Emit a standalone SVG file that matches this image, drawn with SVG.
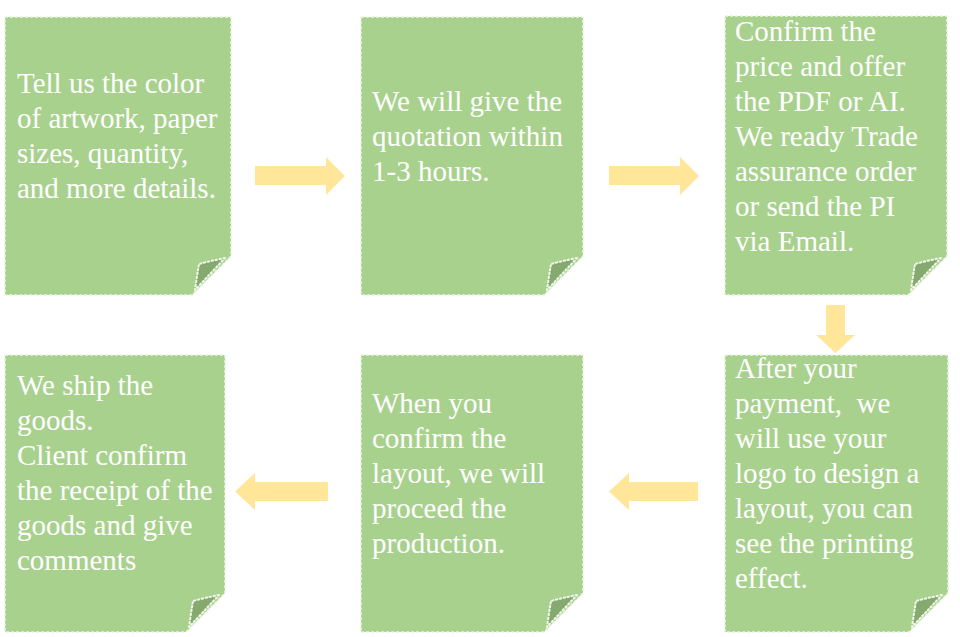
<svg xmlns="http://www.w3.org/2000/svg" width="960" height="637" viewBox="0 0 960 637">
<style>
.page{fill:#A9D18E;stroke:#EAF4E3;stroke-width:1.5;stroke-dasharray:3 2}
.flap{fill:#86A96F;stroke:#F2F8EE;stroke-width:2;stroke-dasharray:1.5 2.5;stroke-linecap:round;stroke-linejoin:round}
.arrow{fill:#FFE699}
text{font-family:"Liberation Serif","Times New Roman",serif;font-size:29px;fill:#FFFFFF}
</style>
<rect width="960" height="637" fill="#FFFFFF"/>
<g id="connectors">
<path class="arrow" d="M255,166 H326 V157 L345,176 L326,195 V185 H255 Z"/>
<path class="arrow" d="M609,166 H680 V157 L699,176 L680,195 V185 H609 Z"/>
<path class="arrow" d="M826,305 H845 V335 H855 L835.5,353 L816,335 H826 Z"/>
<path class="arrow" d="M698,482 H629 V473 L609,491.5 L629,510 V501 H698 Z"/>
<path class="arrow" d="M328,482 H255 V473 L235,491.5 L255,510 V501 H328 Z"/>
</g>
<g id="node1">
<path class="page" d="M5,17 H231 V256 L192,295 H5 Z"/>
<path class="flap" d="M225,258 Q210,261 199,264 Q197,276 195,290 Z"/>
<text x="17" y="93">Tell us the color</text>
<text x="17" y="128">of artwork, paper</text>
<text x="17" y="163">sizes, quantity,</text>
<text x="17" y="198">and more details.</text>
</g>
<g id="node2">
<path class="page" d="M361,17 H583 V256 L544,295 H361 Z"/>
<path class="flap" d="M577,258 Q562,261 551,264 Q549,276 547,290 Z"/>
<text x="372" y="111">We will give the</text>
<text x="372" y="146">quotation within</text>
<text x="372" y="181">1-3 hours.</text>
</g>
<g id="node3">
<path class="page" d="M725,16 H947 V256 L908,295 H725 Z"/>
<path class="flap" d="M941,258 Q926,261 915,264 Q913,276 911,290 Z"/>
<text x="735" y="41">Confirm the</text>
<text x="735" y="76">price and offer</text>
<text x="735" y="111">the PDF or AI.</text>
<text x="735" y="146">We ready Trade</text>
<text x="735" y="181">assurance order</text>
<text x="735" y="216">or send the PI</text>
<text x="735" y="251">via Email.</text>
</g>
<g id="node4">
<path class="page" d="M725,355 H948 V593 L909,632 H725 Z"/>
<path class="flap" d="M942,595 Q927,598 916,601 Q914,613 912,627 Z"/>
<text x="735" y="378">After your</text>
<text x="735" y="413" xml:space="preserve">payment,  we</text>
<text x="735" y="448">will use your</text>
<text x="735" y="483">logo to design a</text>
<text x="735" y="518">layout, you can</text>
<text x="735" y="553">see the printing</text>
<text x="735" y="588">effect.</text>
</g>
<g id="node5">
<path class="page" d="M361,355 H583 V593 L544,632 H361 Z"/>
<path class="flap" d="M577,595 Q562,598 551,601 Q549,613 547,627 Z"/>
<text x="372" y="413">When you</text>
<text x="372" y="448">confirm the</text>
<text x="372" y="483">layout, we will</text>
<text x="372" y="518">proceed the</text>
<text x="372" y="553">production.</text>
</g>
<g id="node6">
<path class="page" d="M5,355 H225 V593 L186,632 H5 Z"/>
<path class="flap" d="M219,595 Q204,598 193,601 Q191,613 189,627 Z"/>
<text x="17" y="395">We ship the</text>
<text x="17" y="430">goods.</text>
<text x="17" y="465">Client confirm</text>
<text x="17" y="500">the receipt of the</text>
<text x="17" y="535">goods and give</text>
<text x="17" y="570">comments</text>
</g>
</svg>
